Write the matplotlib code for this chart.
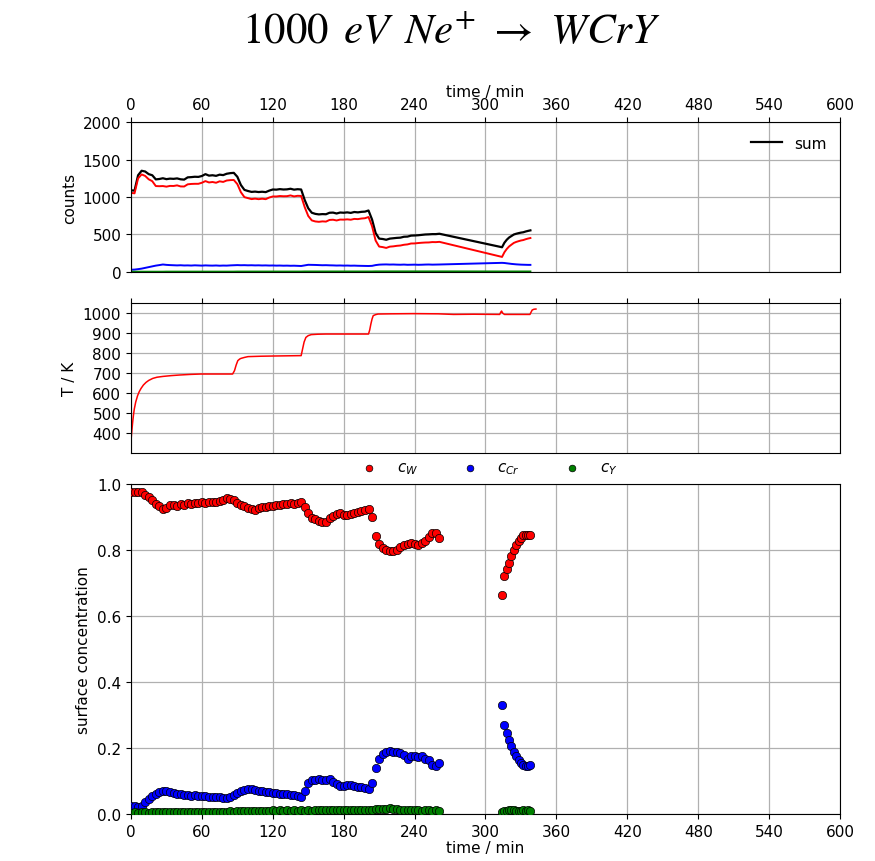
# Counts, temperature and surface concentration vs time for Ne+ on WCrY

import numpy as np
import matplotlib.pyplot as plt

# measurement times (min)
time = [0, 3, 6, 9, 12, 15, 18, 21, 24, 27,
        30, 33, 36, 39, 42, 45, 48, 51, 54, 57,
        60, 63, 66, 69, 72, 75, 78, 81, 84, 87,
        90, 93, 96, 99, 102, 105, 108, 111, 114, 117,
        120, 123, 126, 129, 132, 135, 138, 141, 144, 147,
        150, 153, 156, 159, 162, 165, 168, 171, 174, 177,
        180, 183, 186, 189, 192, 195, 198, 201, 204, 207,
        210, 213, 216, 219, 222, 225, 228, 231, 234, 237,
        240, 243, 246, 249, 252, 255, 258, 261, 314, 316,
        318, 320, 322, 324, 326, 328, 330, 332, 334, 336,
        338]

cnt_sum = [1089, 1085, 1290, 1350, 1340, 1305, 1290, 1235, 1240, 1250,
           1238, 1245, 1242, 1248, 1236, 1232, 1262, 1265, 1270, 1268,
           1280, 1305, 1285, 1290, 1282, 1298, 1292, 1310, 1318, 1322,
           1270, 1160, 1095, 1080, 1068, 1072, 1066, 1070, 1065, 1085,
           1100, 1098, 1105, 1100, 1102, 1110, 1098, 1104, 1100, 960,
           850, 790, 775, 768, 772, 770, 790, 792, 780, 793,
           790, 795, 788, 800, 795, 802, 805, 820, 700, 520,
           445, 440, 430, 445, 450, 455, 458, 470, 472, 485,
           487, 490, 495, 500, 502, 505, 505, 510, 330, 390,
           430, 460, 480, 500, 510, 518, 525, 530, 540, 548,
           555]

cnt_w = [1055, 1049, 1248, 1301, 1281, 1236, 1211, 1146, 1144, 1146,
         1138, 1148, 1147, 1155, 1141, 1140, 1169, 1174, 1176, 1176,
         1190, 1212, 1194, 1200, 1190, 1209, 1201, 1220, 1225, 1227,
         1172, 1064, 998, 985, 972, 978, 971, 977, 971, 993,
         1007, 1007, 1013, 1010, 1011, 1021, 1008, 1016, 1014, 865,
         747, 688, 674, 669, 675, 672, 694, 697, 687, 699,
         698, 702, 697, 708, 705, 713, 717, 733, 611, 420,
         339, 332, 321, 338, 342, 349, 353, 363, 368, 380,
         381, 386, 390, 393, 394, 399, 398, 402, 201, 263,
         307, 341, 365, 388, 401, 411, 420, 426, 437, 446,
         453]

cnt_cr = [30, 32, 38, 45, 55, 65, 75, 85, 92, 100,
          95, 92, 90, 88, 90, 87, 88, 86, 89, 87,
          85, 88, 86, 85, 87, 84, 86, 85, 88, 90,
          92, 90, 91, 89, 90, 88, 89, 87, 88, 86,
          87, 85, 86, 84, 85, 83, 84, 82, 80, 88,
          96, 95, 94, 92, 90, 91, 89, 88, 86, 87,
          85, 86, 84, 85, 83, 82, 81, 80, 82, 92,
          98, 100, 101, 99, 100, 98, 97, 99, 96, 97,
          98, 96, 97, 99, 100, 98, 99, 100, 122, 120,
          116, 112, 108, 105, 102, 100, 98, 97, 96, 95,
          95]

cnt_y = [4, 4, 4, 4, 4, 4, 4, 4, 4, 4,
         5, 5, 5, 5, 5, 5, 5, 5, 5, 5,
         5, 5, 5, 5, 5, 5, 5, 5, 5, 5,
         6, 6, 6, 6, 6, 6, 6, 6, 6, 6,
         6, 6, 6, 6, 6, 6, 6, 6, 6, 7,
         7, 7, 7, 7, 7, 7, 7, 7, 7, 7,
         7, 7, 7, 7, 7, 7, 7, 7, 7, 8,
         8, 8, 8, 8, 8, 8, 8, 8, 8, 8,
         8, 8, 8, 8, 8, 8, 8, 8, 7, 7,
         7, 7, 7, 7, 7, 7, 7, 7, 7, 7,
         7]

c_w = [0.977, 0.975, 0.977, 0.975, 0.967, 0.960, 0.950, 0.940, 0.933, 0.925,
       0.928, 0.935, 0.937, 0.934, 0.939, 0.937, 0.941, 0.939, 0.943, 0.941,
       0.946, 0.942, 0.944, 0.946, 0.944, 0.949, 0.951, 0.958, 0.953, 0.950,
       0.943, 0.937, 0.932, 0.928, 0.924, 0.922, 0.928, 0.930, 0.929, 0.933,
       0.932, 0.936, 0.935, 0.938, 0.939, 0.941, 0.940, 0.943, 0.944, 0.930,
       0.911, 0.896, 0.893, 0.889, 0.886, 0.884, 0.896, 0.904, 0.909, 0.912,
       0.907, 0.906, 0.910, 0.911, 0.915, 0.918, 0.921, 0.923, 0.900, 0.842,
       0.818, 0.805, 0.800, 0.798, 0.798, 0.801, 0.808, 0.815, 0.819, 0.822,
       0.818, 0.815, 0.820, 0.828, 0.840, 0.851, 0.850, 0.837, 0.664, 0.721,
       0.743, 0.760, 0.782, 0.800, 0.814, 0.827, 0.837, 0.844, 0.845, 0.845,
       0.845]

c_cr = [0.023, 0.023, 0.022, 0.024, 0.036, 0.047, 0.055, 0.062, 0.066, 0.071,
        0.070, 0.066, 0.064, 0.062, 0.061, 0.059, 0.058, 0.056, 0.057, 0.055,
        0.054, 0.055, 0.053, 0.052, 0.053, 0.051, 0.050, 0.049, 0.053, 0.058,
        0.064, 0.069, 0.074, 0.076, 0.075, 0.072, 0.071, 0.070, 0.067, 0.066,
        0.064, 0.063, 0.062, 0.061, 0.060, 0.059, 0.058, 0.056, 0.053, 0.070,
        0.095, 0.104, 0.103, 0.105, 0.103, 0.102, 0.106, 0.096, 0.090, 0.086,
        0.084, 0.088, 0.087, 0.085, 0.083, 0.081, 0.080, 0.077, 0.094, 0.139,
        0.168, 0.182, 0.188, 0.190, 0.189, 0.187, 0.184, 0.180, 0.168, 0.176,
        0.177, 0.174, 0.176, 0.168, 0.165, 0.150, 0.144, 0.156, 0.330, 0.270,
        0.244, 0.225, 0.205, 0.188, 0.175, 0.165, 0.155, 0.148, 0.145, 0.144,
        0.148]

c_y = [0.004, 0.005, 0.004, 0.005, 0.005, 0.004, 0.005, 0.005, 0.006, 0.005,
       0.006, 0.005, 0.006, 0.006, 0.005, 0.006, 0.006, 0.007, 0.006, 0.006,
       0.007, 0.006, 0.007, 0.006, 0.007, 0.007, 0.006, 0.007, 0.008, 0.007,
       0.008, 0.009, 0.008, 0.009, 0.010, 0.009, 0.010, 0.009, 0.010, 0.010,
       0.011, 0.010, 0.011, 0.010, 0.011, 0.010, 0.011, 0.010, 0.011, 0.010,
       0.011, 0.010, 0.012, 0.011, 0.013, 0.012, 0.011, 0.012, 0.013, 0.011,
       0.012, 0.011, 0.013, 0.012, 0.011, 0.012, 0.012, 0.011, 0.012, 0.014,
       0.015, 0.014, 0.016, 0.018, 0.015, 0.014, 0.013, 0.012, 0.011, 0.012,
       0.011, 0.012, 0.010, 0.011, 0.012, 0.010, 0.011, 0.010, 0.006, 0.009,
       0.010, 0.011, 0.012, 0.011, 0.010, 0.009, 0.010, 0.012, 0.010, 0.011,
       0.008]

# temperature log (own time base)
temp_time = [0, 0.7, 1.4, 2.1, 2.8, 4, 5.6, 7, 8.5, 10.5,
             12.7, 15, 18.4, 22, 27, 34, 41, 50, 59, 70,
             86, 87.6, 89, 90.4, 92, 93, 96, 99, 110, 120,
             132, 144, 145.5, 146.5, 148, 150, 152.5, 158, 165, 180,
             201, 202, 203, 204, 205, 207, 209, 220, 239, 260,
             273, 290, 312, 313, 313.6, 314.5, 316, 325, 337.6, 339.5,
             341, 342.7]
temp = [362, 410, 453, 490, 520, 555, 587, 607, 623, 640,
        653, 663, 673, 679, 683, 687, 690, 693, 695, 695,
        695, 712, 740, 762, 770, 773, 778, 782, 784, 785,
        786, 787, 828, 855, 878, 887, 892, 894, 895, 895,
        895, 915, 945, 970, 987, 992, 995, 996, 997, 996,
        993, 994, 993, 1005, 1010, 1000, 993, 993, 993, 1015,
        1019, 1020]

time_ticks = np.arange(0, 601, 60)

plt.rcParams['font.size'] = 11

fig = plt.figure(figsize=(8.75, 8.62), dpi=100)
fig.text(0.516, 0.963, r'$1000\ \,eV\ \,Ne^{+}\ \rightarrow\ WCrY$', ha='center', va='center',
         fontsize=31, math_fontfamily='stix')

# counts
ax1 = fig.add_axes([0.1497, 0.6833, 0.8103, 0.174])
ax1.plot(time, cnt_sum, color='k', lw=1.6, label='sum')
ax1.plot(time, cnt_w, color='r', lw=1.4)
ax1.plot(time, cnt_cr, color='b', lw=1.4)
ax1.plot(time, cnt_y, color='g', lw=1.4)
ax1.set_xlim(0, 600)
ax1.set_ylim(0, 2000)
ax1.set_yticks([0, 500, 1000, 1500, 2000])
ax1.set_xticks(time_ticks)
ax1.xaxis.tick_top()
ax1.xaxis.set_label_position('top')
ax1.set_xlabel('time / min', labelpad=1)
ax1.set_ylabel('counts')
ax1.grid(True, color='#b0b0b0', lw=0.9)
ax1.legend(loc='upper right', frameon=False)

# temperature
ax2 = fig.add_axes([0.1497, 0.4733, 0.8103, 0.174])
ax2.plot(temp_time, temp, color='r', lw=1.1)
ax2.set_xlim(0, 600)
ax2.set_ylim(300, 1050)
ax2.set_yticks(np.arange(400, 1001, 100))
ax2.set_xticks(time_ticks)
ax2.xaxis.tick_top()
ax2.tick_params(axis='x', labeltop=False)
ax2.set_ylabel('T / K')
ax2.grid(True, color='#b0b0b0', lw=0.9)

# surface concentration
ax3 = fig.add_axes([0.1497, 0.0545, 0.8103, 0.3829])
ax3.scatter(time, c_w, s=36, c='r', edgecolors='k', linewidths=0.5, label='$c_W$', zorder=3)
ax3.scatter(time, c_cr, s=36, c='b', edgecolors='k', linewidths=0.5, label='$c_{Cr}$', zorder=3)
ax3.scatter(time, c_y, s=36, c='g', edgecolors='k', linewidths=0.5, label='$c_Y$', zorder=3)
ax3.set_xlim(0, 600)
ax3.set_ylim(0, 1.0)
ax3.set_xticks(time_ticks)
ax3.set_yticks(np.arange(0, 1.01, 0.2))
ax3.set_xlabel('time / min', labelpad=1)
ax3.set_ylabel('surface concentration')
ax3.grid(True, color='#b0b0b0', lw=0.9)
ax3.legend(loc='lower center', bbox_to_anchor=(0.5, 1.0), ncol=3, frameon=False,
           markerscale=0.8, columnspacing=2.4, borderaxespad=0.1)

plt.savefig('out.png', dpi=100)
